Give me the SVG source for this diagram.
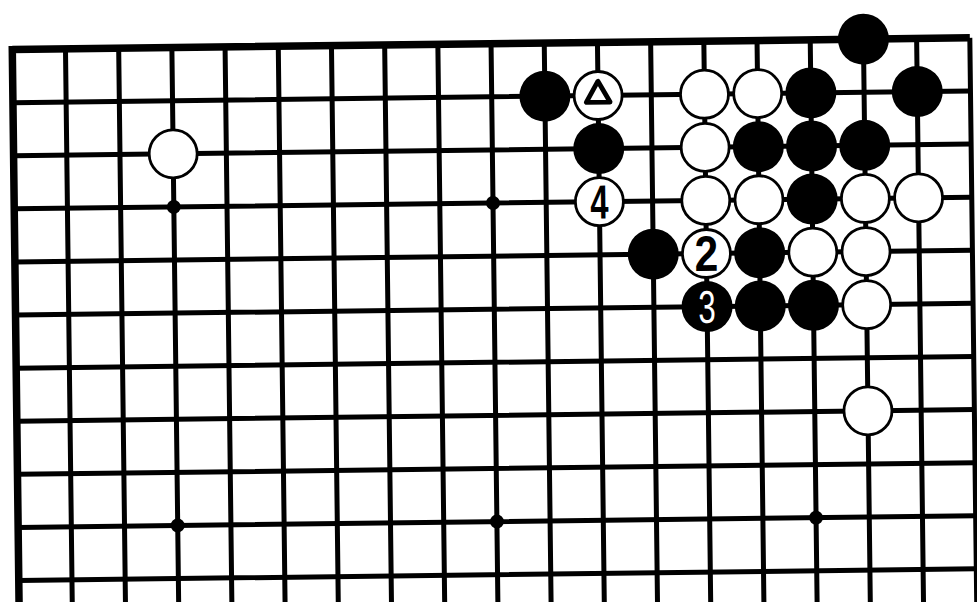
<svg xmlns="http://www.w3.org/2000/svg" width="977" height="602" viewBox="0 0 977 602">
<style>
.ln{stroke:#000;stroke-width:5;fill:none}
.edge{stroke:#000;stroke-width:7.5;fill:none}
.w{fill:#fff;stroke:#000;stroke-width:2.8}
.b{fill:#000}
.num{font-family:"Liberation Sans",Arial,sans-serif;font-weight:bold;text-anchor:middle}
</style>
<defs>
<circle id="ws" r="24" class="w"/>
<circle id="bs" r="25.5" class="b"/>
</defs>
<rect width="977" height="602" fill="#fff"/>
<g transform="rotate(-0.7 493 203)">
<g id="grid">
<path class="edge" d="M14.2 43.7H971.8M14.2 40V640"/>
<path class="ln" d="M14.2 96.8H971.8M14.2 149.9H971.8M14.2 203H971.8M14.2 256.1H971.8M14.2 309.2H971.8M14.2 362.3H971.8M14.2 415.4H971.8M14.2 468.5H971.8M14.2 521.6H971.8M14.2 574.7H971.8"/>
<path class="ln" d="M67.4 43.7V640M120.6 43.7V640M173.8 43.7V640M227 43.7V640M280.2 43.7V640M333.4 43.7V640M386.6 43.7V640M439.8 43.7V640M493 43.7V640M546.2 43.7V640M599.4 43.7V640M652.6 43.7V640M705.8 43.7V640M759 43.7V640M812.2 43.7V640M865.4 43.7V640M918.6 43.7V640M971.8 43.7V640"/>
</g>
<g id="hoshi">
<circle cx="173.8" cy="203" r="7"/><circle cx="493" cy="203" r="7"/>
<circle cx="173.8" cy="521.6" r="7"/><circle cx="493" cy="521.6" r="7"/><circle cx="812.2" cy="521.6" r="7"/>
</g>
<g id="stones">
<g id="b-r1-c17"><use href="#bs" x="865.4" y="43.7"/></g>
<g id="b-r2-c11"><use href="#bs" x="546.2" y="96.8"/></g>
<g id="w-r2-c12"><use href="#ws" x="599.4" y="96.8"/><path d="M599.4 82.5L587.5 103.5H611.3Z" fill="none" stroke="#000" stroke-width="4.8" stroke-linejoin="round"/></g>
<g id="w-r2-c14"><use href="#ws" x="705.8" y="96.8"/></g>
<g id="w-r2-c15"><use href="#ws" x="759" y="96.8"/></g>
<g id="b-r2-c16"><use href="#bs" x="812.2" y="96.8"/></g>
<g id="b-r2-c18"><use href="#bs" x="918.6" y="96.8"/></g>
<g id="w-r3-c4"><use href="#ws" x="173.8" y="149.9"/></g>
<g id="b-r3-c12"><use href="#bs" x="599.4" y="149.9"/></g>
<g id="w-r3-c14"><use href="#ws" x="705.8" y="149.9"/></g>
<g id="b-r3-c15"><use href="#bs" x="759" y="149.9"/></g>
<g id="b-r3-c16"><use href="#bs" x="812.2" y="149.9"/></g>
<g id="b-r3-c17"><use href="#bs" x="865.4" y="149.9"/></g>
<g id="w-r4-c12"><use href="#ws" x="599.4" y="203"/><text class="num" font-size="48" transform="translate(599.4 220) scale(0.68 1)">4</text></g>
<g id="w-r4-c14"><use href="#ws" x="705.8" y="203"/></g>
<g id="w-r4-c15"><use href="#ws" x="759" y="203"/></g>
<g id="b-r4-c16"><use href="#bs" x="812.2" y="203"/></g>
<g id="w-r4-c17"><use href="#ws" x="865.4" y="203"/></g>
<g id="w-r4-c18"><use href="#ws" x="918.6" y="203"/></g>
<g id="b-r5-c13"><use href="#bs" x="652.6" y="256.1"/></g>
<g id="w-r5-c14"><use href="#ws" x="705.8" y="256.1"/><text class="num" font-size="50" transform="translate(705.8 273.5) scale(0.85 1)">2</text></g>
<g id="b-r5-c15"><use href="#bs" x="759" y="256.1"/></g>
<g id="w-r5-c16"><use href="#ws" x="812.2" y="256.1"/></g>
<g id="w-r5-c17"><use href="#ws" x="865.4" y="256.1"/></g>
<g id="b-r6-c14"><use href="#bs" x="705.8" y="309.2"/><text class="num" font-size="46" fill="#fff" style="font-weight:normal" transform="translate(705.8 325.5) scale(0.68 1)">3</text></g>
<g id="b-r6-c15"><use href="#bs" x="759" y="309.2"/></g>
<g id="b-r6-c16"><use href="#bs" x="812.2" y="309.2"/></g>
<g id="w-r6-c17"><use href="#ws" x="865.4" y="309.2"/></g>
<g id="w-r8-c17"><use href="#ws" x="865.4" y="415.4"/></g>
</g>
</g>
</svg>
